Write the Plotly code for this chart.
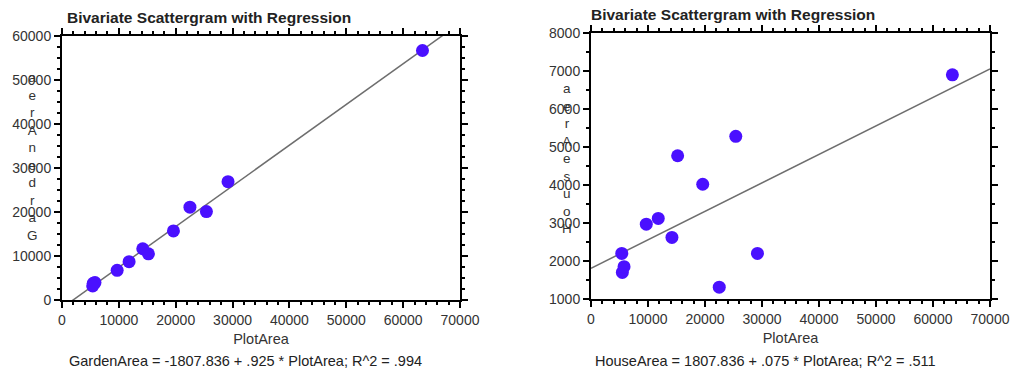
import plotly.graph_objects as go

# ---- data ----
plot_area   = [5500, 5800, 5400, 9700, 11800, 14200, 15200, 19600, 22500, 25400, 29200, 63400]
garden_area = [3800, 3950, 3200, 6750, 8700, 11650, 10500, 15700, 21100, 20100, 26900, 56700]
house_area  = [1700, 1850, 2200, 2970, 3120, 2620, 4770, 4020, 1310, 5280, 2200, 6900]

garden_fit = {"intercept": -1807.836, "slope": 0.925}
house_fit  = {"intercept": 1807.836, "slope": 0.075}

title_text = "Bivariate Scattergram with Regression"
x_title = "PlotArea"
eq_left = "GardenArea = -1807.836 + .925 * PlotArea; R^2 = .994"
eq_right = "HouseArea = 1807.836 + .075 * PlotArea; R^2 = .511"
y_title_left = "GardenArea"
y_title_right = "HouseArea"

x_range = [0, 70000]
fit_x = [0, 70000]

W, H = 1011, 376
def px(x): return x / W
def py(y): return 1 - y / H

FONT = "Liberation Sans, Arial, sans-serif"
MARK = "#4a10ff"

fig = go.Figure()

def add_panel(xa, ya, yvals, fit):
    fig.add_trace(go.Scatter(
        x=fit_x, y=[fit["intercept"] + fit["slope"] * v for v in fit_x],
        mode="lines", line=dict(color="#6e6e6e", width=1.5),
        xaxis=xa, yaxis=ya, showlegend=False, hoverinfo="skip"))
    fig.add_trace(go.Scatter(
        x=plot_area, y=yvals, mode="markers",
        marker=dict(color=MARK, size=13, line=dict(width=0)),
        xaxis=xa, yaxis=ya, showlegend=False))

add_panel("x", "y", garden_area, garden_fit)
add_panel("x2", "y2", house_area, house_fit)

axis_common = dict(
    showgrid=False, zeroline=False, showline=True, linecolor="black", linewidth=2,
    mirror="allticks", ticks="outside", ticklen=6, tickwidth=2, tickcolor="black",
    tickfont=dict(family=FONT, size=14, color="#333333"), tickformat="d",
    automargin=False,
)
minor_x = dict(dtick=2000, ticks="outside", ticklen=3, tickwidth=1.5, tickcolor="black")
xtitle = dict(text=x_title, font=dict(size=14.5, color="#333333"), standoff=7)

fig.update_layout(
    width=W, height=H, margin=dict(l=0, r=0, t=0, b=0, autoexpand=False),
    paper_bgcolor="white", plot_bgcolor="white",
    font=dict(family=FONT, color="#333333"),
    xaxis=dict(domain=[px(62), px(460)], anchor="y", range=x_range, dtick=10000,
               minor=minor_x, title=xtitle, **axis_common),
    yaxis=dict(domain=[py(300), py(36)], anchor="x", range=[0, 60000], dtick=10000,
               minor=dict(dtick=2500, ticks="outside", ticklen=3, tickwidth=1.5, tickcolor="black"),
               **axis_common),
    xaxis2=dict(domain=[px(591), px(990)], anchor="y2", range=x_range, dtick=10000,
                minor=minor_x, title=xtitle, **axis_common),
    yaxis2=dict(domain=[py(299), py(33)], anchor="x2", range=[1000, 8000], dtick=1000,
                minor=dict(dtick=500, ticks="outside", ticklen=3, tickwidth=1.5, tickcolor="black"),
                **axis_common),
)

def letters(s):
    return "<br>".join(reversed(list(s)))

ann = [
    dict(text="<b>" + title_text + "</b>", x=px(65), y=py(17), xanchor="left", yanchor="middle",
         font=dict(size=15.5, color="#222222")),
    dict(text="<b>" + title_text + "</b>", x=px(589), y=py(15), xanchor="left", yanchor="middle",
         font=dict(size=15.5, color="#222222")),
    dict(text=eq_left, x=px(245), y=py(361), xanchor="center", yanchor="middle",
         font=dict(size=14.5, color="#222222")),
    dict(text=eq_right, x=px(765), y=py(361), xanchor="center", yanchor="middle",
         font=dict(size=14.5, color="#222222")),
    dict(text=letters(y_title_left), x=px(32), y=py(156), xanchor="center", yanchor="middle",
         font=dict(size=13.5, color="#333333")),
    dict(text=letters(y_title_right), x=px(567), y=py(158), xanchor="center", yanchor="middle",
         font=dict(size=13.5, color="#333333")),
]
for a in ann:
    a.update(xref="paper", yref="paper", showarrow=False)
fig.update_layout(annotations=ann)

fig.write_html(
    "out.html",
    config={"displayModeBar": False},
    post_script="document.body.style.margin='0';document.body.style.overflow='hidden';",
)
